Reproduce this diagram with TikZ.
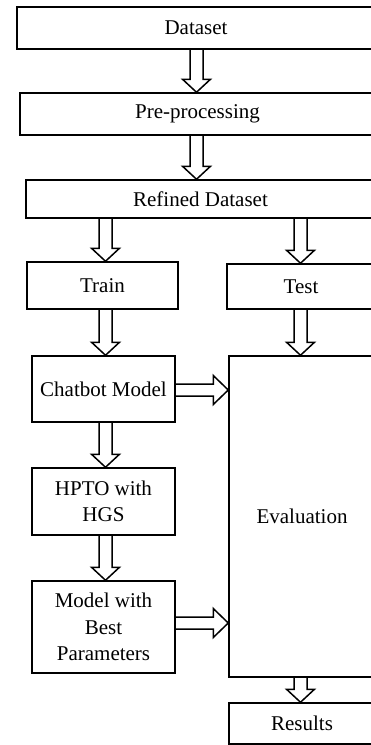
\documentclass[tikz,border=0pt]{standalone}
\usepackage{fontspec}
\setmainfont{Liberation Serif}
\usetikzlibrary{calc}
\newcommand\fsz{\fontsize{21}{26.5}\selectfont}
\newcommand\hdown[2]{\draw[harrow] let \p1=(#1), \p2=(#2) in
  (\x1-6.5pt,\y1) -- (\x1-6.5pt,\y2+13pt) -- (\x1-14pt,\y2+13pt) -- (\x2,\y2)
  -- (\x1+14pt,\y2+13pt) -- (\x1+6.5pt,\y2+13pt) -- (\x1+6.5pt,\y1);}
\newcommand\hright[2]{\draw[harrow] let \p1=(#1), \p2=(#2) in
  (\x1,\y1+6pt) -- (\x2-15pt,\y1+6pt) -- (\x2-15pt,\y1+14.5pt) -- (\x2,\y2)
  -- (\x2-15pt,\y1-14.5pt) -- (\x2-15pt,\y1-6pt) -- (\x1,\y1-6pt);}
\tikzset{
  box/.style={draw, line width=1.5pt, inner sep=0pt, font=\fsz, align=center},
  harrow/.style={draw, line width=1.5pt, line join=miter, miter limit=10}
}
\begin{document}
\begin{tikzpicture}[x=1pt,y=-1pt]
\useasboundingbox (0,0) rectangle (370,745);
\node[box, minimum width=358, minimum height=42] (ds) at (196,28) {Dataset};
\node[box, minimum width=355, minimum height=42] (pp) at (197.5,114) {Pre-processing};
\node[box, minimum width=349, minimum height=38] (rd) at (200.5,199) {Refined Dataset};
\node[box, minimum width=151, minimum height=47] (tr) at (102.5,285.5) {Train};
\node[box, minimum width=148, minimum height=45] (te) at (301,286.5) {Test};
\node[box, minimum width=143, minimum height=66] (cm) at (103.5,389) {Chatbot Model};
\node[box, minimum width=146, minimum height=321] (ev) at (302,516.5) {Evaluation};
\node[box, minimum width=143, minimum height=67] (hp) at (103.5,501.5) {HPTO with\\HGS};
\node[box, minimum width=143, minimum height=92] (mb) at (103.5,627) {Model with\\Best\\Parameters};
\node[box, minimum width=146, minimum height=41] (rs) at (302,723.5) {Results};
\coordinate (c1) at (196.5,0);
\coordinate (c2) at (105.5,0);
\coordinate (c3) at (300.5,0);
\coordinate (r1) at (0,390);
\coordinate (r2) at (0,623);
\hdown{c1 |- ds.south}{c1 |- pp.north}
\hdown{c1 |- pp.south}{c1 |- rd.north}
\hdown{c2 |- rd.south}{c2 |- tr.north}
\hdown{c3 |- rd.south}{c3 |- te.north}
\hdown{c2 |- tr.south}{c2 |- cm.north}
\hdown{c3 |- te.south}{c3 |- ev.north}
\hdown{c2 |- cm.south}{c2 |- hp.north}
\hdown{c2 |- hp.south}{c2 |- mb.north}
\hdown{c3 |- ev.south}{c3 |- rs.north}
\hright{cm.east |- r1}{ev.west |- r1}
\hright{mb.east |- r2}{ev.west |- r2}
\end{tikzpicture}
\end{document}
